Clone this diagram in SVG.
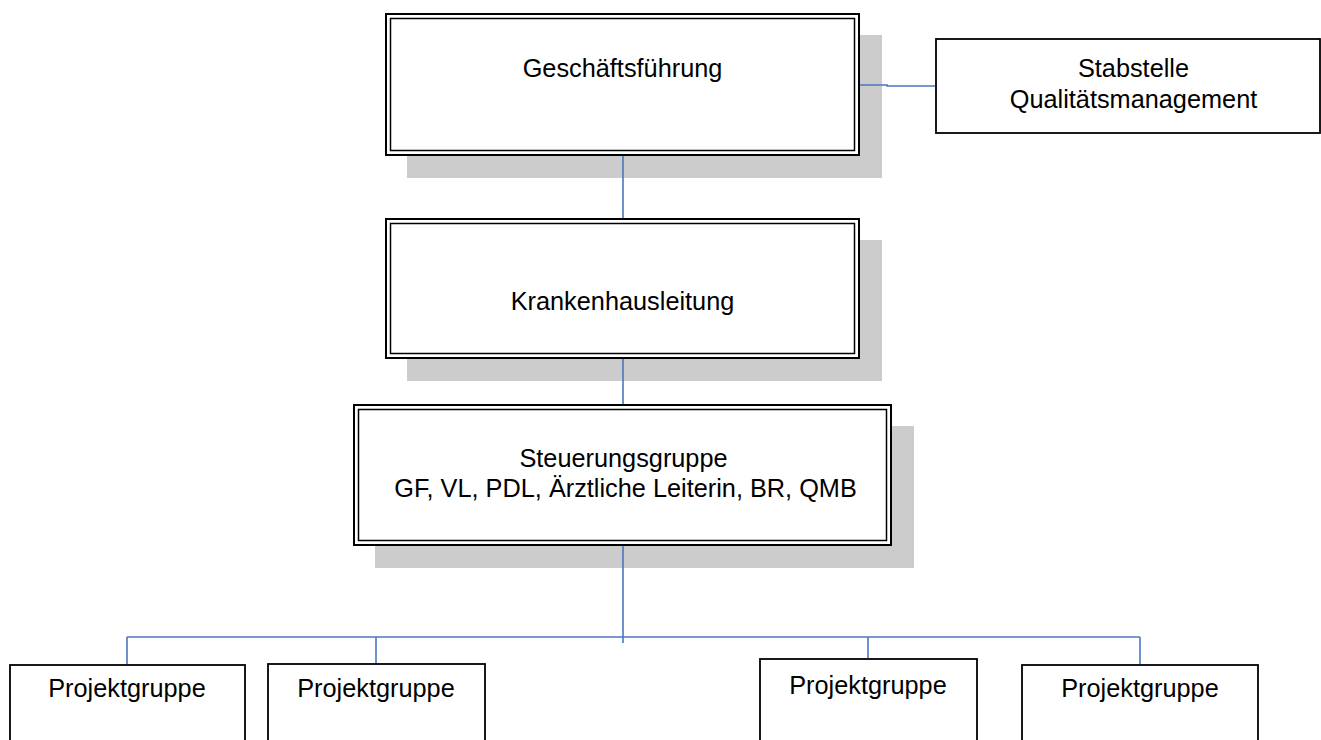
<svg xmlns="http://www.w3.org/2000/svg" width="1321" height="740" viewBox="0 0 1321 740">
<style>
.shadow{fill:#cccccc;stroke:none}
.outer{fill:#ffffff;stroke:#000000;stroke-width:2}
.inner{fill:none;stroke:#000000;stroke-width:1.5}
.box{fill:#ffffff;stroke:#000000;stroke-width:1.8}
.t{font-family:"Liberation Sans",Arial,sans-serif;font-size:25.3px;fill:#000000;text-anchor:middle}
.c{fill:none;stroke:#4a76c0;stroke-width:1.6}
</style>
<rect width="1321" height="740" fill="#ffffff"/>
<g id="geschaeftsfuehrung">
<rect class="shadow" x="407" y="35" width="475" height="143"/>
<rect class="outer" x="386" y="14" width="473" height="141"/>
<rect class="inner" x="390.5" y="18.5" width="464" height="132"/>
<text class="t" x="622.5" y="77">Geschäftsführung</text>
</g>
<g id="stabstelle">
<rect class="box" x="936" y="39" width="384" height="94"/>
<text class="t" x="1133.5" y="77">Stabstelle</text>
<text class="t" x="1133.5" y="108">Qualitätsmanagement</text>
</g>
<g id="krankenhausleitung">
<rect class="shadow" x="407" y="240" width="475" height="141"/>
<rect class="outer" x="386" y="219" width="473" height="139"/>
<rect class="inner" x="390.5" y="223.5" width="464" height="130"/>
<text class="t" x="622.5" y="310">Krankenhausleitung</text>
</g>
<g id="steuerungsgruppe">
<rect class="shadow" x="375" y="426" width="539" height="142"/>
<rect class="outer" x="354" y="405" width="537" height="140"/>
<rect class="inner" x="358.5" y="409.5" width="528" height="131"/>
<text class="t" x="623.5" y="467">Steuerungsgruppe</text>
<text class="t" x="625.5" y="497">GF, VL, PDL, Ärztliche Leiterin, BR, QMB</text>
</g>
<g id="projektgruppe1">
<rect class="box" x="10" y="665" width="235" height="90"/>
<text class="t" x="127" y="697">Projektgruppe</text>
</g>
<g id="projektgruppe2">
<rect class="box" x="268" y="664" width="217" height="90"/>
<text class="t" x="376" y="697">Projektgruppe</text>
</g>
<g id="projektgruppe3">
<rect class="box" x="760" y="659" width="217" height="90"/>
<text class="t" x="868" y="694">Projektgruppe</text>
</g>
<g id="projektgruppe4">
<rect class="box" x="1022" y="665" width="236" height="90"/>
<text class="t" x="1140" y="697">Projektgruppe</text>
</g>
<g id="connectors">
<polyline class="c" points="860,85 887,85 887,86 935,86"/>
<line class="c" x1="623" y1="156" x2="623" y2="218"/>
<line class="c" x1="623" y1="359" x2="623" y2="404"/>
<line class="c" x1="623" y1="546" x2="623" y2="643"/>
<line class="c" x1="127" y1="637" x2="1140" y2="637"/>
<line class="c" x1="127" y1="637" x2="127" y2="664"/>
<line class="c" x1="376" y1="637" x2="376" y2="663"/>
<line class="c" x1="868" y1="637" x2="868" y2="658"/>
<line class="c" x1="1140" y1="637" x2="1140" y2="664"/>
</g>
</svg>
